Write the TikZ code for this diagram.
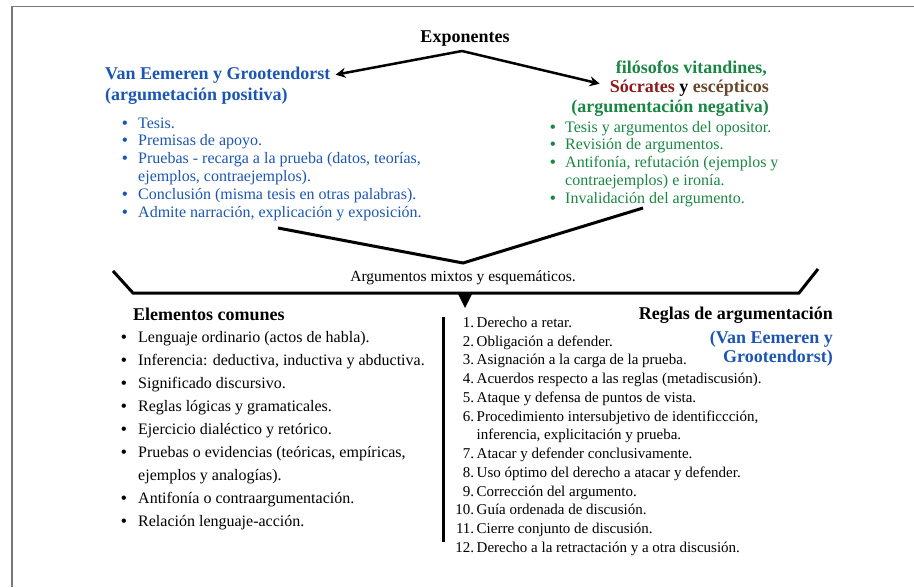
\documentclass[tikz,border=0pt]{standalone}
\usepackage{fontspec}
\setmainfont{Liberation Serif}
\usepackage{tikz}
\usetikzlibrary{shapes,arrows,positioning,calc,arrows.meta}
\definecolor{posblue}{RGB}{28,86,178}
\definecolor{neggreen}{RGB}{26,134,68}
\definecolor{socred}{RGB}{140,28,28}
\definecolor{escbrown}{RGB}{104,72,44}
\definecolor{framegray}{RGB}{120,120,120}
\newcommand{\bul}[2][16pt]{\strut\makebox[#1][l]{\textbf{\textbullet}}#2}
\newcommand{\cont}[2][16pt]{\strut\hspace*{#1}#2}
\newcommand{\rg}[2]{\strut\makebox[19pt][r]{#1.}\hspace{2.5pt}#2}

\begin{document}
\begin{tikzpicture}[x=1pt, y=-1pt,
		titlebf/.style={font=\bfseries\fontsize{18}{19.5}\selectfont, inner sep=0pt},
		txt/.style={inner sep=0pt, align=left, anchor=north west},
		link/.style={line width=2.5pt, -{Stealth[length=10pt,width=10pt]}},
		bar/.style={line width=3pt, line join=miter}]
		\useasboundingbox (0,0) rectangle (914,587);
		% frame
		\draw[framegray, line width=1.5pt] (12,587) -- (12,6.5) -- (914,6.5);
		
		% exponentes
		\node[titlebf, anchor=base] (expo) at (465,42) {Exponentes};
		\coordinate (split) at (462,51);
		
		\node[titlebf, posblue, anchor=base west] (vanA) at (105,79) {Van Eemeren y Grootendorst};
		\node[titlebf, posblue, anchor=base west] (vanB) at (105,100) {(argumetación positiva)};
		
		\node[titlebf, neggreen, anchor=base east] (negA) at (767,73) {filósofos vitandines,};
		\node[titlebf, anchor=base east] (negB) at (769,92) {\textcolor{socred}{Sócrates} y \textcolor{escbrown}{escépticos}};
		\node[titlebf, neggreen, anchor=base east] (negC) at (769,112) {(argumentación negativa)};
		
		\draw[link] (split) -- ([xshift=5pt]vanA.east);
		\draw[link] (split) -- ([xshift=-10pt, yshift=4pt]negB.west);
		
		\node[txt, posblue, font=\fontsize{16}{17.8}\selectfont] (poslist) at (122,115.5) {\bul{Tesis.}\\
			\bul{Premisas de apoyo.}\\
			\bul{Pruebas - recarga a la prueba (datos, teorías,}\\
			\cont{ejemplos, contraejemplos).}\\
			\bul{Conclusión (misma tesis en otras palabras).}\\
			\bul{Admite narración, explicación y exposición.}};
		
		\node[txt, neggreen, font=\fontsize{16}{17.8}\selectfont] (neglist) at (550,119.5) {\bul[15pt]{Tesis y argumentos del opositor.}\\
			\bul[15pt]{Revisión de argumentos.}\\
			\bul[15pt]{Antifonía, refutación (ejemplos y}\\
			\cont[15pt]{contraejemplos) e ironía.}\\
			\bul[15pt]{Invalidación del argumento.}};
		
		% union de ambas posturas
		\coordinate (posfoot) at (278,228);
		\coordinate (negfoot) at (643,208);
		\coordinate (merge) at (463,263);
		\draw[bar] (posfoot) -- (merge) -- (negfoot);
		
		\node[inner sep=0pt, anchor=base, font=\fontsize{15.5}{18}\selectfont] (mixtos) at (463,281) {Argumentos mixtos y esquemáticos.};
		\draw[bar] (113,271) -- (133,293) -- (799,293) -- (818,269);
		\fill (457,292) -- (473,292) -- (465,308) -- cycle;
		
		% elementos comunes
		\node[titlebf, anchor=base west] (comtitle) at (133,320) {Elementos comunes};
		\node[txt, font=\fontsize{16}{23}\selectfont] (comlist) at (121,326) {\bul[17pt]{Lenguaje ordinario (actos de habla).}\\
			\bul[17pt]{Inferencia: deductiva, inductiva y abductiva.}\\
			\bul[17pt]{Significado discursivo.}\\
			\bul[17pt]{Reglas lógicas y gramaticales.}\\
			\bul[17pt]{Ejercicio dialéctico y retórico.}\\
			\bul[17pt]{Pruebas o evidencias (teóricas, empíricas,}\\
			\cont[17pt]{ejemplos y analogías).}\\
			\bul[17pt]{Antifonía o contraargumentación.}\\
			\bul[17pt]{Relación lenguaje-acción.}};
		
		\draw[bar] (443,317) -- (443,542);
		
		% reglas
		\node[titlebf, anchor=base east] (regtitle) at (833,319) {Reglas de argumentación};
		\node[titlebf, posblue, align=right, anchor=north east, font=\bfseries\fontsize{18}{19}\selectfont] (regauth) at (833,329.7) {\strut(Van Eemeren y\\Grootendorst)};
		\node[txt, font=\fontsize{15}{18.75}\selectfont] (reglist) at (455,314) {\rg{1}{Derecho a retar.}\\
			\rg{2}{Obligación a defender.}\\
			\rg{3}{Asignación a la carga de la prueba.}\\
			\rg{4}{Acuerdos respecto a las reglas (metadiscusión).}\\
			\rg{5}{Ataque y defensa de puntos de vista.}\\
			\rg{6}{Procedimiento intersubjetivo de identificcción,}\\
			\strut\hspace*{21.5pt}inferencia, explicitación y prueba.\\
			\rg{7}{Atacar y defender conclusivamente.}\\
			\rg{8}{Uso óptimo del derecho a atacar y defender.}\\
			\rg{9}{Corrección del argumento.}\\
			\rg{10}{Guía ordenada de discusión.}\\
			\rg{11}{Cierre conjunto de discusión.}\\
			\rg{12}{Derecho a la retractación y a otra discusión.}};
	\end{tikzpicture}
\end{document}
